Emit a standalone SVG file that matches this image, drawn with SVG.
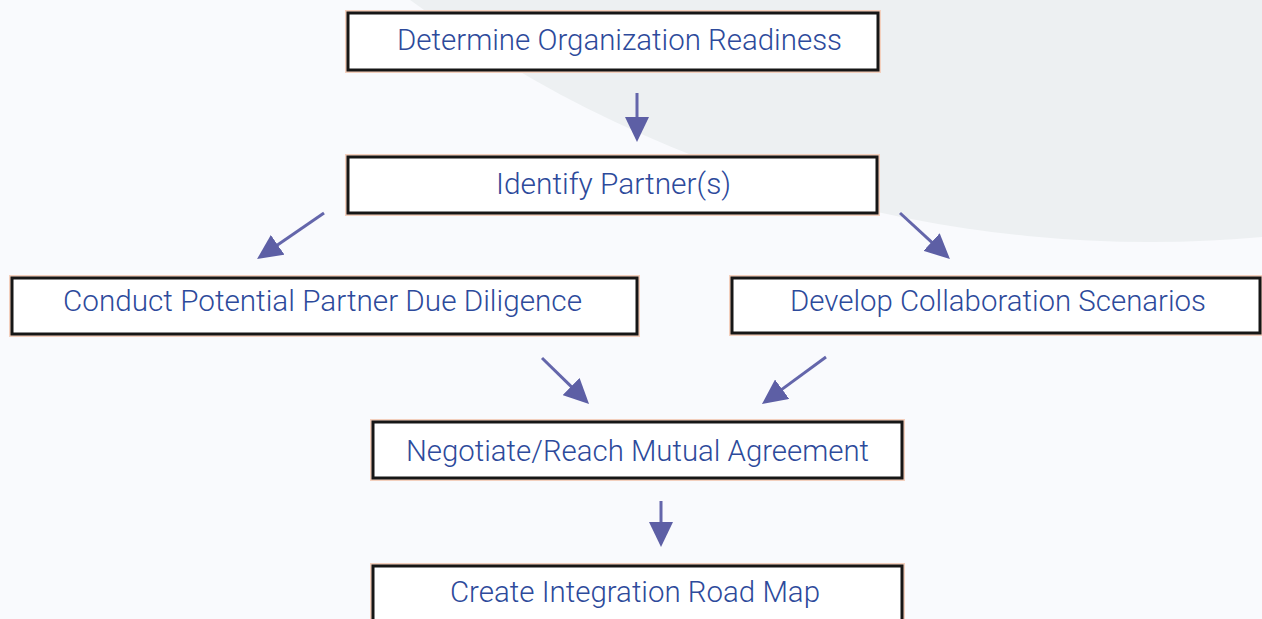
<svg xmlns="http://www.w3.org/2000/svg" width="1262" height="619" viewBox="0 0 1262 619">
  <style>
    .halo { fill: none; stroke: #f3cfbd; stroke-width: 6; }
    .box { fill: #ffffff; stroke: #161616; stroke-width: 3; }
    .label { font-family: Roboto, "Noto Sans", "Liberation Sans", sans-serif; font-weight: 300; font-size: 29px; fill: #2d4a9b; }
    .link { stroke: #6466ab; stroke-width: 3; fill: none; marker-end: url(#head); }
  </style>
  <defs>
    <marker id="head" markerUnits="userSpaceOnUse" markerWidth="26" markerHeight="24" viewBox="0 0 26 24" refX="2" refY="12" orient="auto">
      <path d="M0,0 L25,12 L0,24 z" fill="#5d5fa5"/>
    </marker>
  </defs>

  <!-- page background and large soft disc -->
  <rect x="0" y="0" width="1262" height="619" fill="#f9fafd"/>
  <circle cx="1150" cy="-1010" r="1252" fill="#edf0f2"/>

  <g id="connectors">
    <line class="link" x1="637" y1="93" x2="637" y2="119"/>
    <line class="link" x1="324" y1="213" x2="276" y2="246"/>
    <line class="link" x1="900" y1="213" x2="933" y2="243.4"/>
    <line class="link" x1="542" y1="358" x2="572.6" y2="387.9"/>
    <line class="link" x1="826" y1="357" x2="780.5" y2="390.4"/>
    <line class="link" x1="661" y1="501" x2="661" y2="524"/>
  </g>

  <g id="readiness">
    <rect class="halo" x="348" y="13" width="530" height="57"/>
    <rect class="box" x="348" y="13" width="530" height="57"/>
    <text class="label" x="619.5" y="50" text-anchor="middle" textLength="445" lengthAdjust="spacingAndGlyphs">Determine Organization Readiness</text>
  </g>

  <g id="identify">
    <rect class="halo" x="348" y="157" width="529" height="56"/>
    <rect class="box" x="348" y="157" width="529" height="56"/>
    <text class="label" x="613.5" y="194" text-anchor="middle" textLength="235" lengthAdjust="spacingAndGlyphs">Identify Partner(s)</text>
  </g>

  <g id="due-diligence">
    <rect class="halo" x="12" y="278" width="625" height="56"/>
    <rect class="box" x="12" y="278" width="625" height="56"/>
    <text class="label" x="322.5" y="311" text-anchor="middle" textLength="519" lengthAdjust="spacingAndGlyphs">Conduct Potential Partner Due Diligence</text>
  </g>

  <g id="scenarios">
    <rect class="halo" x="732" y="278" width="528" height="55"/>
    <rect class="box" x="732" y="278" width="528" height="55"/>
    <text class="label" x="998" y="311" text-anchor="middle" textLength="416" lengthAdjust="spacingAndGlyphs">Develop Collaboration Scenarios</text>
  </g>

  <g id="agreement">
    <rect class="halo" x="373" y="422" width="529" height="56"/>
    <rect class="box" x="373" y="422" width="529" height="56"/>
    <text class="label" x="637.5" y="461" text-anchor="middle" textLength="463" lengthAdjust="spacingAndGlyphs">Negotiate/Reach Mutual Agreement</text>
  </g>

  <g id="road-map">
    <rect class="halo" x="373" y="566" width="529" height="70"/>
    <rect class="box" x="373" y="566" width="529" height="70"/>
    <text class="label" x="635" y="602" text-anchor="middle" textLength="370" lengthAdjust="spacingAndGlyphs">Create Integration Road Map</text>
  </g>
</svg>
